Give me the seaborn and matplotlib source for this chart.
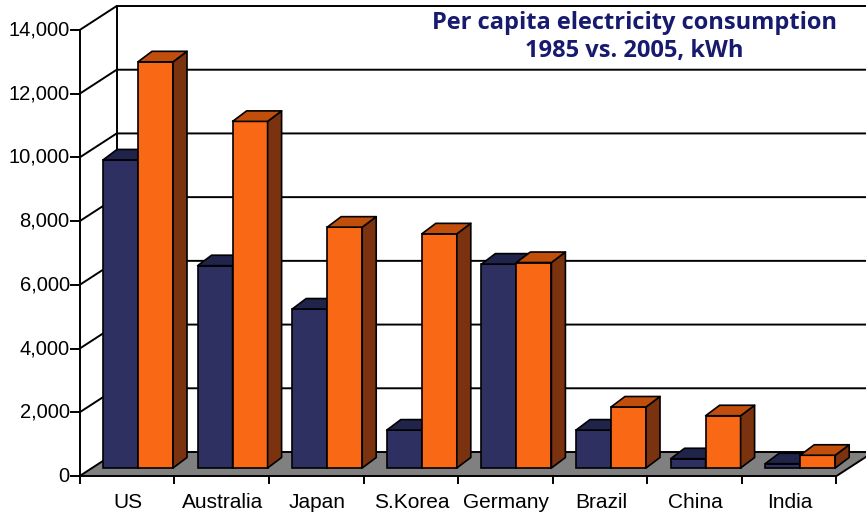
import matplotlib
matplotlib.use("Agg")
import matplotlib.pyplot as plt
import numpy as np
import pandas as pd
import seaborn as sns
from matplotlib import font_manager
from matplotlib.patches import Polygon

# Per capita electricity consumption, kWh
countries = ["US", "Australia", "Japan", "S.Korea", "Germany", "Brazil", "China", "India"]
kwh_1985 = [9670, 6350, 4990, 1190, 6400, 1190, 290, 135]
kwh_2005 = [12750, 10880, 7560, 7350, 6450, 1915, 1640, 400]
years = ["1985", "2005"]
y_ticks = [0, 2000, 4000, 6000, 8000, 10000, 12000, 14000]
title_lines = ["Per capita electricity consumption", "1985 vs. 2005, kWh"]

NAVY = "#2d3061"
NAVY_TOP = "#20234a"
NAVY_SIDE = "#181a38"
ORANGE = "#f96915"
ORANGE_TOP = "#c24e0c"
ORANGE_SIDE = "#7b320e"
TITLE_COLOR = "#171a6e"
FLOOR = "#808080"


def pick_font(candidates):
    names = {f.name for f in font_manager.fontManager.ttflist}
    for c in candidates:
        if c in names:
            return c
    return "DejaVu Sans"


label_font = pick_font(["Liberation Sans Narrow", "DejaVu Sans Condensed", "Liberation Sans"])
title_font = pick_font(["Open Sans", "Lato", "DejaVu Sans"])

df = pd.DataFrame({
    "country": countries * 2,
    "year": [years[0]] * len(countries) + [years[1]] * len(countries),
    "kwh": kwh_1985 + kwh_2005,
})

W, H = 866, 516
fig = plt.figure(figsize=(W / 100, H / 100), dpi=100)
ax = fig.add_axes([0, 0, 1, 1])

sns.barplot(data=df, x="country", y="kwh", hue="year", palette=[NAVY, ORANGE],
            width=0.74, saturation=1, edgecolor="black", linewidth=1.2,
            legend=False, ax=ax, errorbar=None)

# pixel geometry of the bar plane
SX = 94.6          # px per category
SY = 446 / 14000   # px per kWh
X0, Y0 = 138, 468  # pixel position of category 0 centre / zero line
ax.set_xlim(-X0 / SX, (W - X0) / SX)
ax.set_ylim((Y0 - H) / SY, Y0 / SY)
ax.set_axis_off()


def front(x, v):
    return (x - 11 / SX, v - 8 / SY)


def back(x, v):
    return (x + 26 / SX, v + 16 / SY)


n = len(countries)
lw = 1.4
ymax = y_ticks[-1]
bars = list(ax.patches)

# floor
floor = Polygon([front(-0.5, 0), front(n - 0.5, 0), back(n - 0.5, 0), back(-0.5, 0)],
                closed=True, facecolor=FLOOR, edgecolor="black", lw=lw, zorder=2,
                clip_on=False)
ax.add_patch(floor)

# walls: front value axis, left-wall diagonals and back-wall gridlines
fx, fy = zip(front(-0.5, 0), front(-0.5, ymax))
ax.plot(fx, fy, color="black", lw=lw, zorder=3, clip_on=False)
bx, by = zip(back(-0.5, 0), back(-0.5, ymax))
ax.plot(bx, by, color="black", lw=lw, zorder=3, clip_on=False)
for v in y_ticks[1:]:
    pts = [front(-0.5, v), back(-0.5, v), back(n + 0.5, v)]
    xs, ys = zip(*pts)
    ax.plot(xs, ys, color="black", lw=lw, zorder=3, clip_on=False)

# value ticks and labels
for v in y_ticks:
    x, y = front(-0.5, v)
    ax.plot([x - 9 / SX, x], [y, y], color="black", lw=lw, zorder=3, clip_on=False)
    ax.text(x - 10 / SX, y, f"{v:,}", ha="right", va="center", fontsize=14.5,
            family=label_font, color="black")

# category ticks and labels
for k in range(n + 1):
    x, y = front(k - 0.5, 0)
    ax.plot([x, x], [y, y - 7 / SY], color="black", lw=lw, zorder=3, clip_on=False)
for k, name in enumerate(countries):
    x, y = front(k, 0)
    ax.text(x + 1 / SX, y - 27 / SY, name, ha="center", va="center", fontsize=15,
            family=label_font, color="black")

# 3-D faces for each bar
ddx, ddy = 14 / SX, 10.5 / SY
for j, p in enumerate(bars):
    series = j // n
    k = j % n
    base_z = 10 + 4 * k + 2 * series
    p.set_zorder(base_z)
    x0, w, h = p.get_x(), p.get_width(), p.get_height()
    top_c = NAVY_TOP if series == 0 else ORANGE_TOP
    side_c = NAVY_SIDE if series == 0 else ORANGE_SIDE
    top = Polygon([(x0, h), (x0 + w, h), (x0 + w + ddx, h + ddy), (x0 + ddx, h + ddy)],
                  closed=True, facecolor=top_c, edgecolor="black", lw=1.2,
                  zorder=base_z + 1, joinstyle="round")
    side = Polygon([(x0 + w, 0), (x0 + w, h), (x0 + w + ddx, h + ddy), (x0 + w + ddx, ddy)],
                   closed=True, facecolor=side_c, edgecolor="black", lw=1.2,
                   zorder=base_z + 1, joinstyle="round")
    ax.add_patch(side)
    ax.add_patch(top)

# title
fig.text(634 / W, 1 - 29 / H, title_lines[0], ha="center", va="baseline",
         fontsize=17, fontweight="bold", family=title_font, color=TITLE_COLOR)
fig.text(634 / W, 1 - 57 / H, title_lines[1], ha="center", va="baseline",
         fontsize=17, fontweight="bold", family=title_font, color=TITLE_COLOR)

fig.savefig("out.png", dpi=100, facecolor="white")
